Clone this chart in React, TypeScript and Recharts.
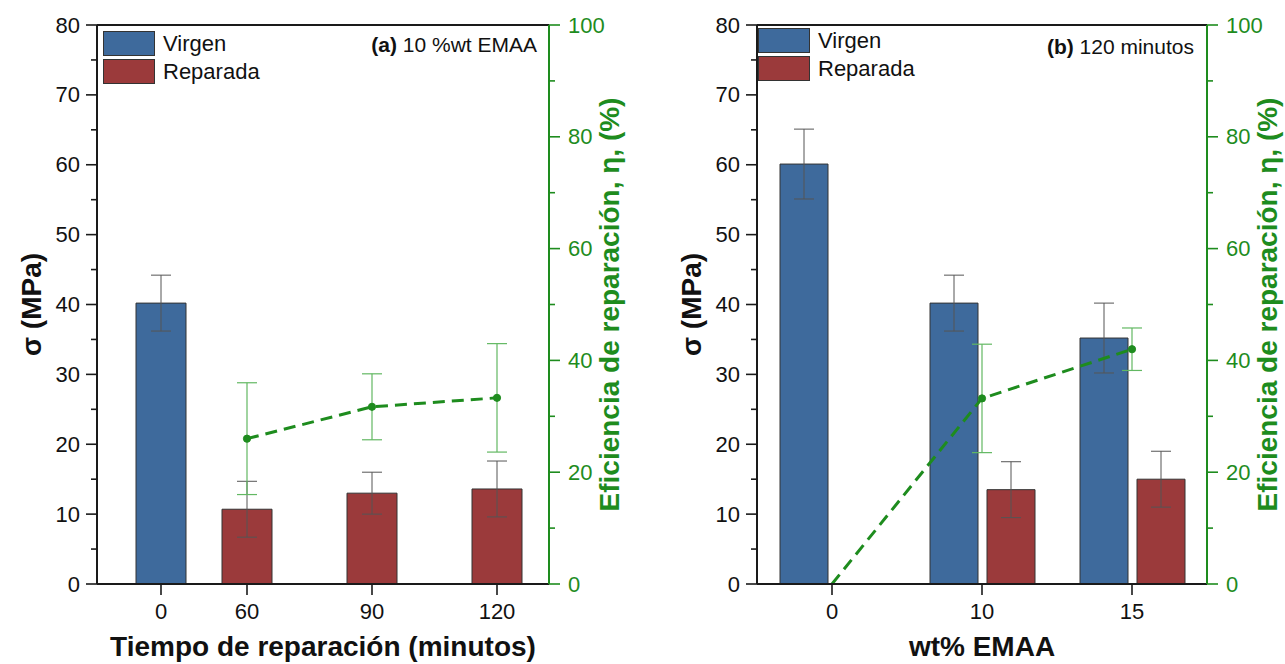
import React from 'react';
import {
  ComposedChart,
  Bar,
  Line,
  XAxis,
  YAxis,
  ErrorBar,
  ReferenceLine,
  Legend,
  Label,
} from 'recharts';

// ---------- data: panel (a) 10 %wt EMAA, vs repair time ----------
const timeLabels = ['0', '60', '90', '120'];
const virginA = [40.2, null, null, null];
const virginAErr = [4.0, null, null, null];
const repairedA = [null, 10.7, 13.0, 13.6];
const repairedAErr = [null, 4.0, 3.0, 4.0];
const etaA = [null, 26.0, 31.7, 33.3];
const etaAErr = [null, 10.0, 5.9, 9.7];

// ---------- data: panel (b) 120 minutos, vs wt% EMAA ----------
const emaaLabels = ['0', '10', '15'];
const virginB = [60.1, 40.2, 35.2];
const virginBErr = [5.0, 4.0, 5.0];
const repairedB = [null, 13.5, 15.0];
const repairedBErr = [null, 4.0, 4.0];
const etaB = [0, 33.2, 42.0];
const etaBErr = [null, 9.7, 3.8];

// ---------- series names / axis ticks ----------
const seriesNames = ['Virgen', 'Reparada'];
const sigmaTicks = [0, 5, 10, 15, 20, 25, 30, 35, 40, 45, 50, 55, 60, 65, 70, 75, 80];
const etaTicks = [0, 10, 20, 30, 40, 50, 60, 70, 80, 90, 100];

// ---------- layout (panel a: grouped slots on a numeric axis) ----------
const slotGroupA = [1, 1, 2, 3];
const slotSideA = [-1, 1, 1, 1];
const SLOT_OFFSET = 0.344;
const DOMAIN_A: [number, number] = [0.144, 3.76];

// ---------- styles ----------
const FONT = '"Liberation Sans", Arial, Helvetica, sans-serif';
const BLUE = '#3e6a9c';
const RED = '#9b3a3b';
const GREEN = '#1e8c1e';
const GREEN_ERR = '#62b862';
const INK = '#1a1a1a';

const tableA = timeLabels.map((label, i) => ({
  label,
  pos: slotGroupA[i] + slotSideA[i] * SLOT_OFFSET,
  virgin: virginA[i],
  virginErr: virginAErr[i],
  repaired: repairedA[i],
  repairedErr: repairedAErr[i],
  eta: etaA[i],
  etaErr: etaAErr[i],
}));
const posA = tableA.map((d) => d.pos);

const tableB = emaaLabels.map((label, i) => ({
  label,
  virgin: virginB[i],
  virginErr: virginBErr[i],
  repaired: repairedB[i],
  repairedErr: repairedBErr[i],
  eta: etaB[i],
  etaErr: etaBErr[i],
}));

// ---------- custom ticks ----------
const LeftTick = (props: any) => {
  const { x, y, payload } = props;
  const major = payload.value % 10 === 0;
  return (
    <g>
      <line x1={x - (major ? 11 : 6)} x2={x} y1={y} y2={y} stroke={INK} strokeWidth={1.6} />
      {major && (
        <text
          x={x - 17}
          y={y}
          textAnchor="end"
          dominantBaseline="central"
          fontSize={22}
          fontFamily={FONT}
          fill="#111"
        >
          {payload.value}
        </text>
      )}
    </g>
  );
};

const RightTick = (props: any) => {
  const { x, y, payload } = props;
  const major = payload.value % 20 === 0;
  return (
    <g>
      <line x1={x} x2={x + (major ? 11 : 6)} y1={y} y2={y} stroke={GREEN} strokeWidth={1.6} />
      {major && (
        <text
          x={x + 19}
          y={y}
          textAnchor="start"
          dominantBaseline="central"
          fontSize={22}
          fontFamily={FONT}
          fill={GREEN}
        >
          {payload.value}
        </text>
      )}
    </g>
  );
};

// ---------- titles ----------
const xTitle = (text: string) => (props: any) => {
  const vb = props.viewBox;
  return (
    <text
      x={vb.x + vb.width / 2}
      y={vb.y + 72}
      textAnchor="middle"
      fontSize={28}
      fontWeight="bold"
      fontFamily={FONT}
      fill="#111"
    >
      {text}
    </text>
  );
};

const yTitleLeft = (text: string) => (props: any) => {
  const vb = props.viewBox;
  const cx = vb.x + vb.width - 66;
  const cy = vb.y + vb.height / 2;
  return (
    <text
      x={cx}
      y={cy}
      transform={`rotate(-90, ${cx}, ${cy})`}
      textAnchor="middle"
      dominantBaseline="central"
      fontSize={28}
      fontWeight="bold"
      fontFamily={FONT}
      fill="#111"
    >
      {text}
    </text>
  );
};

const yTitleRight = (text: string) => (props: any) => {
  const vb = props.viewBox;
  const cx = vb.x + 60;
  const cy = vb.y + vb.height / 2;
  return (
    <text
      x={cx}
      y={cy}
      transform={`rotate(-90, ${cx}, ${cy})`}
      textAnchor="middle"
      dominantBaseline="central"
      fontSize={28}
      fontWeight="bold"
      fontFamily={FONT}
      fill={GREEN}
    >
      {text}
    </text>
  );
};

// ---------- legend ----------
const LegendBox = (props: any) => {
  const items = (props.payload || [])
    .filter((p: any) => seriesNames.includes(p.value))
    .sort((a: any, b: any) => seriesNames.indexOf(a.value) - seriesNames.indexOf(b.value));
  return (
    <div style={{ display: 'flex', flexDirection: 'column', gap: 3 }}>
      {items.map((p: any) => (
        <div key={p.value} style={{ display: 'flex', alignItems: 'center', height: 25 }}>
          <div
            style={{
              width: 52,
              height: 25,
              boxSizing: 'border-box',
              background: p.color,
              border: '1px solid #333',
            }}
          />
          <span
            style={{
              marginLeft: 8,
              fontSize: 22,
              fontFamily: FONT,
              color: '#111',
              lineHeight: '25px',
              whiteSpace: 'nowrap',
            }}
          >
            {p.value}
          </span>
        </div>
      ))}
    </div>
  );
};

const EtaDot = (props: any) => {
  const { cx, cy, value, index } = props;
  if (value === 0 || value == null || cx == null) return <g key={`d${index}`} />;
  return <circle key={`d${index}`} cx={cx} cy={cy} r={3.6} fill={GREEN} stroke={GREEN} />;
};

const Annotation = ({ bold, rest, right, top }: any) => (
  <div
    style={{
      position: 'absolute',
      left: right - 260,
      width: 260,
      top,
      textAlign: 'right',
      fontSize: 21,
      lineHeight: '24px',
      fontFamily: FONT,
      color: '#111',
      whiteSpace: 'nowrap',
    }}
  >
    <b>{bold}</b> {rest}
  </div>
);

const legendWrap = (left: number, top: number) => ({
  left,
  top,
  width: 'auto',
});

export default function App() {
  return (
    <div style={{ position: 'absolute', left: 0, top: 0, width: 1285, height: 664, background: '#fff' }}>
      {/* Panel (a) */}
      <div style={{ position: 'absolute', left: 0, top: 0 }}>
        <ComposedChart
          width={640}
          height={664}
          data={tableA}
          margin={{ top: 25, right: 21, bottom: 10, left: 37 }}
        >
          <XAxis
            type="number"
            dataKey="pos"
            domain={DOMAIN_A}
            allowDataOverflow
            ticks={posA}
            interval={0}
            tickFormatter={(v: number) => {
              const i = posA.findIndex((p) => Math.abs(p - v) < 1e-6);
              return i >= 0 ? timeLabels[i] : '';
            }}
            height={70}
            tickSize={11}
            tickMargin={8}
            axisLine={{ stroke: INK, strokeWidth: 2 }}
            tickLine={{ stroke: INK, strokeWidth: 1.6 }}
            tick={{ fontSize: 22, fontFamily: FONT, fill: '#111' }}
          >
            <Label content={xTitle('Tiempo de reparación (minutos)')} />
          </XAxis>
          <YAxis
            yAxisId="left"
            orientation="left"
            domain={[0, 80]}
            ticks={sigmaTicks}
            interval={0}
            width={60}
            tickSize={0}
            tickMargin={0}
            tickLine={false}
            axisLine={{ stroke: INK, strokeWidth: 2 }}
            tick={<LeftTick />}
          >
            <Label content={yTitleLeft('σ (MPa)')} />
          </YAxis>
          <YAxis
            yAxisId="right"
            orientation="right"
            domain={[0, 100]}
            ticks={etaTicks}
            interval={0}
            width={70}
            tickSize={0}
            tickMargin={0}
            tickLine={false}
            axisLine={{ stroke: GREEN, strokeWidth: 2 }}
            tick={<RightTick />}
          >
            <Label content={yTitleRight('Eficiencia de reparación, η, (%)')} />
          </YAxis>
          <ReferenceLine yAxisId="left" y={80} stroke={INK} strokeWidth={2} />
          <Legend
            layout="vertical"
            align="center"
            verticalAlign="middle"
            content={<LegendBox />}
            wrapperStyle={legendWrap(103, 31)}
          />
          <Bar
            yAxisId="left"
            dataKey="virgin"
            name={seriesNames[0]}
            stackId="s"
            barSize={50}
            fill={BLUE}
            stroke="#333"
            strokeWidth={1}
            isAnimationActive={false}
          >
            <ErrorBar dataKey="virginErr" width={10} stroke="#555" strokeWidth={1} direction="y" />
          </Bar>
          <Bar
            yAxisId="left"
            dataKey="repaired"
            name={seriesNames[1]}
            stackId="s"
            barSize={50}
            fill={RED}
            stroke="#333"
            strokeWidth={1}
            isAnimationActive={false}
          >
            <ErrorBar dataKey="repairedErr" width={10} stroke="#555" strokeWidth={1} direction="y" />
          </Bar>
          <Line
            yAxisId="right"
            dataKey="eta"
            name="η"
            legendType="none"
            stroke={GREEN}
            strokeWidth={3}
            strokeDasharray="12 7"
            dot={<EtaDot />}
            activeDot={false}
            isAnimationActive={false}
          >
            <ErrorBar dataKey="etaErr" width={10} stroke={GREEN_ERR} strokeWidth={1.2} direction="y" />
          </Line>
        </ComposedChart>
        <Annotation bold="(a)" rest="10 %wt EMAA" right={537} top={33} />
      </div>

      {/* Panel (b) */}
      <div style={{ position: 'absolute', left: 640, top: 0, width: 645, height: 664 }}>
        <ComposedChart
          width={645}
          height={664}
          data={tableB}
          margin={{ top: 25, right: 8, bottom: 10, left: 57 }}
          barGap={9}
        >
          <XAxis
            dataKey="label"
            type="category"
            height={70}
            tickSize={11}
            tickMargin={8}
            interval={0}
            axisLine={{ stroke: INK, strokeWidth: 2 }}
            tickLine={{ stroke: INK, strokeWidth: 1.6 }}
            tick={{ fontSize: 22, fontFamily: FONT, fill: '#111' }}
          >
            <Label content={xTitle('wt% EMAA')} />
          </XAxis>
          <YAxis
            yAxisId="left"
            orientation="left"
            domain={[0, 80]}
            ticks={sigmaTicks}
            interval={0}
            width={60}
            tickSize={0}
            tickMargin={0}
            tickLine={false}
            axisLine={{ stroke: INK, strokeWidth: 2 }}
            tick={<LeftTick />}
          >
            <Label content={yTitleLeft('σ (MPa)')} />
          </YAxis>
          <YAxis
            yAxisId="right"
            orientation="right"
            domain={[0, 100]}
            ticks={etaTicks}
            interval={0}
            width={70}
            tickSize={0}
            tickMargin={0}
            tickLine={false}
            axisLine={{ stroke: GREEN, strokeWidth: 2 }}
            tick={<RightTick />}
          >
            <Label content={yTitleRight('Eficiencia de reparación, η, (%)')} />
          </YAxis>
          <ReferenceLine yAxisId="left" y={80} stroke={INK} strokeWidth={2} />
          <Legend
            layout="vertical"
            align="center"
            verticalAlign="middle"
            content={<LegendBox />}
            wrapperStyle={legendWrap(118, 28)}
          />
          <Bar
            yAxisId="left"
            dataKey="virgin"
            name={seriesNames[0]}
            barSize={48}
            fill={BLUE}
            stroke="#333"
            strokeWidth={1}
            isAnimationActive={false}
          >
            <ErrorBar dataKey="virginErr" width={10} stroke="#555" strokeWidth={1} direction="y" />
          </Bar>
          <Bar
            yAxisId="left"
            dataKey="repaired"
            name={seriesNames[1]}
            barSize={48}
            fill={RED}
            stroke="#333"
            strokeWidth={1}
            isAnimationActive={false}
          >
            <ErrorBar dataKey="repairedErr" width={10} stroke="#555" strokeWidth={1} direction="y" />
          </Bar>
          <Line
            yAxisId="right"
            dataKey="eta"
            name="η"
            legendType="none"
            stroke={GREEN}
            strokeWidth={3}
            strokeDasharray="12 7"
            dot={<EtaDot />}
            activeDot={false}
            isAnimationActive={false}
          >
            <ErrorBar dataKey="etaErr" width={10} stroke={GREEN_ERR} strokeWidth={1.2} direction="y" />
          </Line>
        </ComposedChart>
        <Annotation bold="(b)" rest="120 minutos" right={554} top={35} />
      </div>
    </div>
  );
}
